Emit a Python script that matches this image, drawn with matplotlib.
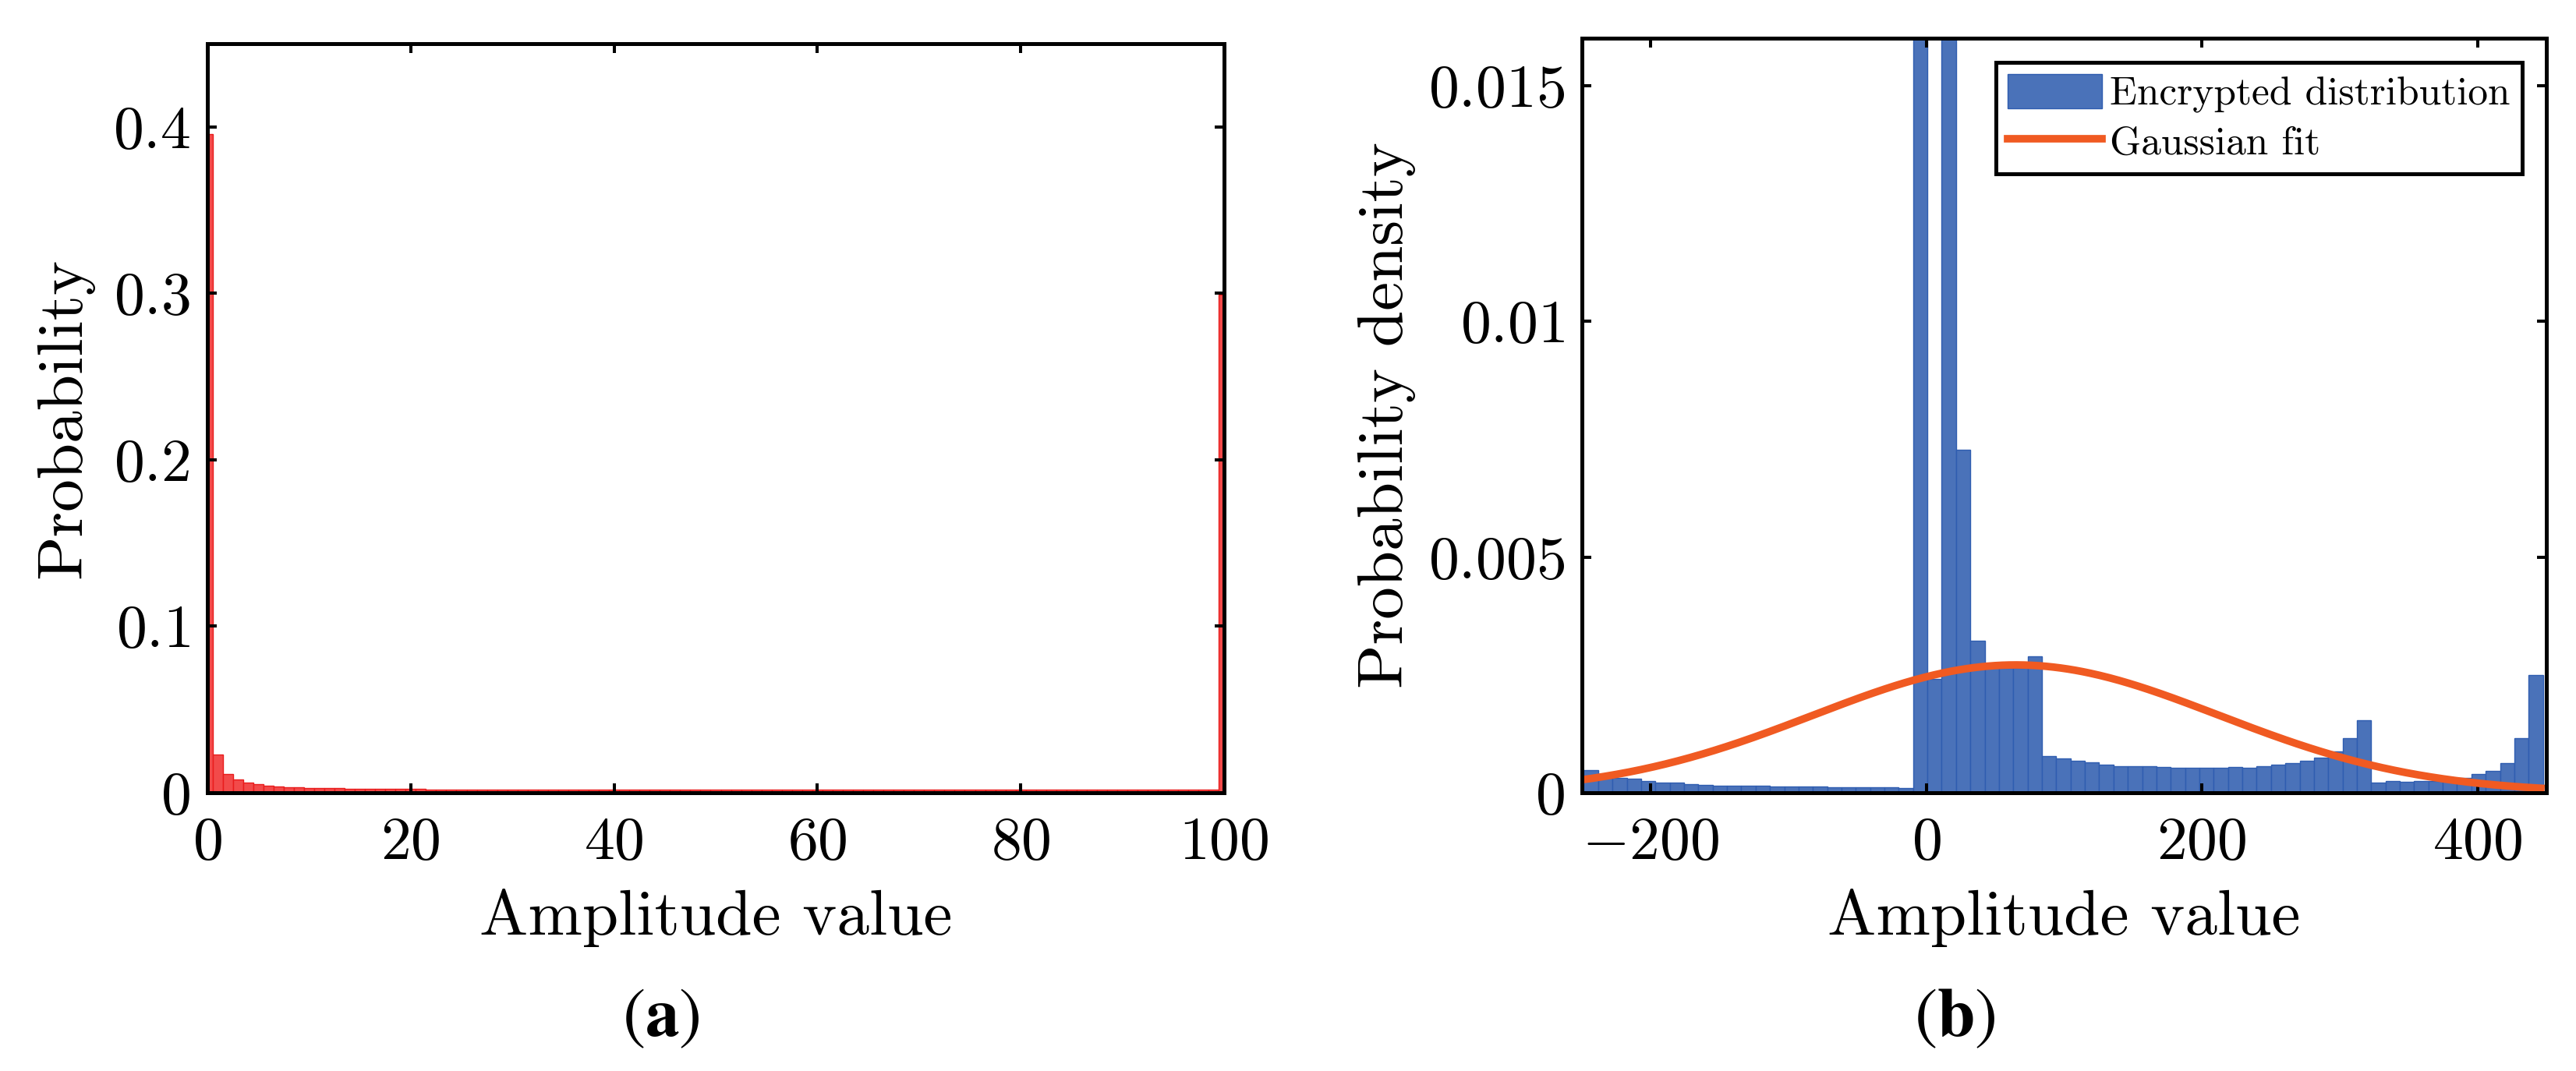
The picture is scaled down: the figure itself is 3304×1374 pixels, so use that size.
import matplotlib
matplotlib.use("Agg")
import matplotlib.pyplot as plt
import numpy as np

plt.rcParams['font.family'] = 'serif'
plt.rcParams['font.serif'] = ['cmr10']
plt.rcParams['mathtext.fontset'] = 'cm'

# ---- panel (a): probability per amplitude bin (bins centred on 0..100)
amp_a = list(range(0, 101))
prob_a = [
    0.3955, 0.0228, 0.0114, 0.0078, 0.0062, 0.0050, 0.0043, 0.0038, 0.0034, 0.0031, 0.0029,
    0.0028, 0.0027, 0.0026, 0.0025, 0.0024, 0.0024, 0.0023, 0.0023, 0.0022, 0.0022,
    0.0022, 0.0021, 0.0021, 0.0021, 0.0021, 0.0021, 0.0020, 0.0020, 0.0020, 0.0020,
    0.0020, 0.0020, 0.0020, 0.0020, 0.0020, 0.0019, 0.0019, 0.0019, 0.0019, 0.0019,
    0.0019, 0.0019, 0.0019, 0.0019, 0.0019, 0.0019, 0.0019, 0.0019, 0.0019, 0.0019,
    0.0019, 0.0019, 0.0018, 0.0018, 0.0018, 0.0018, 0.0018, 0.0018, 0.0018, 0.0018,
    0.0018, 0.0018, 0.0018, 0.0018, 0.0018, 0.0018, 0.0018, 0.0018, 0.0018, 0.0018,
    0.0018, 0.0018, 0.0018, 0.0018, 0.0018, 0.0018, 0.0017, 0.0017, 0.0017, 0.0017,
    0.0017, 0.0017, 0.0017, 0.0017, 0.0017, 0.0017, 0.0017, 0.0017, 0.0017, 0.0017,
    0.0017, 0.0017, 0.0017, 0.0017, 0.0017, 0.0017, 0.0017, 0.0017, 0.0017,
    0.2990,
]
xticks_a = [0, 20, 40, 60, 80, 100]
yticks_a = [0, 0.1, 0.2, 0.3, 0.4]
yticklabels_a = ['0', '0.1', '0.2', '0.3', '0.4']

# ---- panel (b): encrypted distribution, pdf histogram
bin_start_b = -248.6
bin_width_b = 10.39
dens_b = [
    # left of zero
    0.00048, 0.00039, 0.00032, 0.00029, 0.00025, 0.000215, 0.00021, 0.00019,
    0.00017, 0.000155, 0.000155, 0.000144, 0.000144, 0.000133, 0.00013, 0.000125,
    0.000125, 0.000116, 0.00011, 0.00011, 0.00011, 0.00011, 0.0001,
    # zero and above
    0.030, 0.00242, 0.030, 0.00728, 0.00323, 0.00264, 0.00264, 0.00264, 0.0029,
    0.00077, 0.00072, 0.00068, 0.00065, 0.0006, 0.00057, 0.00056, 0.00056,
    0.00055, 0.00053, 0.00053, 0.00053, 0.00053, 0.000547, 0.00053, 0.00057,
    0.0006, 0.00062, 0.00067, 0.00074, 0.00088, 0.00115, 0.00154,
    0.000215, 0.00024, 0.00023, 0.00025, 0.00024, 0.00026, 0.00032, 0.00039,
    0.00046, 0.00062, 0.00115, 0.0025,
]
fit_mu = 65.0
fit_sigma = 147.2
fit_range = (-260.0, 446.0)
xticks_b = [-200, 0, 200, 400]
yticks_b = [0, 0.005, 0.01, 0.015]
yticklabels_b = ['0', '0.005', '0.01', '0.015']

W, H = 3305, 1374
fig = plt.figure(figsize=(W / 100, H / 100), dpi=100)

def px_axes(x0, y0, x1, y1):
    return fig.add_axes([x0 / W, 1 - y1 / H, (x1 - x0) / W, (y1 - y0) / H])

def style(ax):
    for s in ax.spines.values():
        s.set_linewidth(3.6)
    ax.tick_params(direction='in', top=True, right=True, length=8.6, width=2.9,
                   labelsize=56)
    ax.tick_params(axis='x', pad=22)
    ax.tick_params(axis='y', pad=16)

label_fs = 60

# (a)
ax1 = px_axes(266, 56, 1570, 1017)
ax1.bar(amp_a, prob_a, width=1.0, color='#f24a4a', edgecolor='#e81c1c', linewidth=1.0)
ax1.set_xlim(0, 100)
ax1.set_ylim(0, 0.45)
ax1.set_xticks(xticks_a)
ax1.set_xticklabels([f'${v}$' for v in xticks_a])
ax1.set_yticks(yticks_a)
ax1.set_yticklabels([f'${v}$' for v in yticklabels_a])
style(ax1)
ax1.set_xlabel('Amplitude value', fontsize=label_fs)
ax1.set_ylabel('Probability', fontsize=label_fs)
ax1.xaxis.set_label_coords(0.5, -0.128)
ax1.yaxis.set_label_coords(-0.112, 0.5)

# (b)
ax2 = px_axes(2029, 49, 3266, 1017)
edges_b = bin_start_b + bin_width_b * np.arange(len(dens_b))
bars = ax2.bar(edges_b, dens_b, width=bin_width_b, align='edge', color='#4a72b9',
               edgecolor='#2f5db0', linewidth=1.0)
xf = np.linspace(fit_range[0], fit_range[1], 400)
yf = np.exp(-0.5 * ((xf - fit_mu) / fit_sigma) ** 2) / (fit_sigma * np.sqrt(2 * np.pi))
line, = ax2.plot(xf, yf, color='#f05a22', linewidth=7)
ax2.set_xlim(-250, 450)
ax2.set_ylim(0, 0.016)
ax2.set_xticks(xticks_b)
ax2.set_xticklabels([f'${v}$' for v in xticks_b])
ax2.set_yticks(yticks_b)
ax2.set_yticklabels([f'${v}$' for v in yticklabels_b])
style(ax2)
ax2.set_xlabel('Amplitude value', fontsize=label_fs)
ax2.set_ylabel('Probability density', fontsize=label_fs)
ax2.xaxis.set_label_coords(0.5, -0.127)
ax2.yaxis.set_label_coords(-0.172, 0.5)

leg = ax2.legend([bars, line], ['Encrypted distribution', 'Gaussian fit'],
                 loc='upper right', fontsize=37, frameon=True, fancybox=False,
                 framealpha=1, edgecolor='black', borderaxespad=0.6,
                 handlelength=2.35, handleheight=0.92, handletextpad=0.2,
                 labelspacing=0.25, borderpad=0.3)
leg.get_frame().set_linewidth(3.6)

# subfigure captions
fig.text(848 / W, 1 - 1307 / H, r'$(\mathbf{a})$', math_fontfamily='stix',
         fontsize=63, ha='center', va='center')
fig.text(2507 / W, 1 - 1307 / H, r'$(\mathbf{b})$', math_fontfamily='stix',
         fontsize=63, ha='center', va='center')

fig.savefig('out.png', dpi=100)
